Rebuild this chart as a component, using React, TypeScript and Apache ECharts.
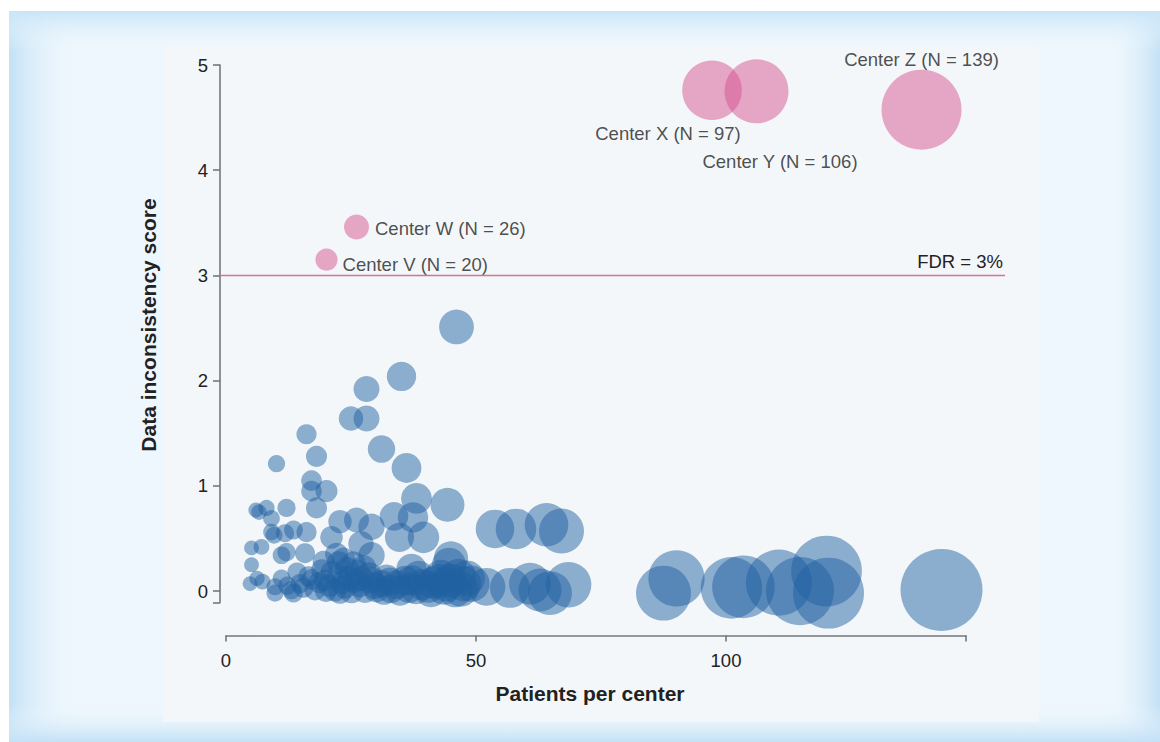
import React, { useEffect, useRef } from 'react';
import * as echarts from 'echarts';

// ---------- data ----------
const xTicks = [0, 50, 100];
const yTicks = [0, 1, 2, 3, 4, 5];
const xTitle = 'Patients per center';
const yTitle = 'Data inconsistency score';
const fdrLevel = 3;
const fdrLabel = 'FDR = 3%';
const fdrSpan = [-1.2, 155.8];

// [patients per center, data inconsistency score]
const blueCenters: [number, number][] = [
  [46.1, 2.51], [35.1, 2.04], [28.1, 1.92], [25.0, 1.64], [28.1, 1.64], [31.1, 1.35], [36.1, 1.17],
  [16.1, 1.49], [18.1, 1.28], [10.1, 1.21], [17.1, 1.05], [17.1, 0.95], [20.1, 0.95], [38.1, 0.88],
  [44.3, 0.82], [18.1, 0.79], [6.0, 0.77], [6.6, 0.75], [8.1, 0.79], [12.1, 0.79], [9.1, 0.69],
  [33.6, 0.71], [37.4, 0.70], [22.8, 0.66], [26.1, 0.675], [29.1, 0.61], [34.7, 0.51], [39.5, 0.51],
  [53.8, 0.59], [58.0, 0.59], [64.1, 0.63], [67.1, 0.57],
  [9.1, 0.56], [9.6, 0.53], [11.8, 0.55], [13.5, 0.58], [16.1, 0.56], [21.1, 0.51], [27.0, 0.45],
  [5.1, 0.41], [7.1, 0.42], [11.1, 0.34], [12.1, 0.37], [15.8, 0.36], [22.1, 0.35], [22.5, 0.27],
  [29.1, 0.34], [5.1, 0.25], [45.0, 0.31], [44.6, 0.25], [37.1, 0.21], [19.5, 0.28],
  [23.5, 0.3], [25.5, 0.26], [27.5, 0.22],
  [4.8, 0.07], [6.2, 0.12], [7.3, 0.09], [9.8, 0.04], [9.8, -0.02], [11.1, 0.12], [12.3, 0.05],
  [13.1, 0.01], [13.5, -0.02], [14.8, 0.07], [14.2, 0.18], [15.5, 0.03], [16.5, 0.14], [17.2, 0.11],
  [17.8, 0.01], [18.6, 0.08], [19.2, 0.2], [19.8, 0.10], [20.0, 0.0], [20.6, 0.05], [21.2, 0.18],
  [21.8, 0.01], [22.5, 0.14], [22.8, -0.01], [23.1, 0.08], [23.8, 0.04], [24.2, 0.21], [24.6, 0.12],
  [25.1, 0.0], [25.8, 0.10], [26.2, 0.18], [26.7, 0.06], [27.0, 0.12], [27.8, 0.01], [28.6, 0.15],
  [29.1, 0.10], [29.8, 0.05], [30.1, 0.02], [31.1, 0.07], [31.6, 0.0], [32.1, 0.12], [32.8, 0.09],
  [33.0, 0.02], [34.1, 0.06], [34.8, 0.0], [35.8, 0.10], [36.6, 0.03], [37.2, 0.1], [38.0, 0.02],
  [38.5, 0.14], [39.2, 0.06], [40.5, 0.04], [41.0, 0.0], [41.5, 0.08], [42.5, 0.10], [43.0, 0.14],
  [43.6, 0.03], [44.0, 0.06], [44.8, 0.10], [45.8, 0.01], [46.5, 0.14], [47.0, 0.02], [47.5, 0.07],
  [48.2, 0.12], [49.1, 0.07], [52.1, 0.04], [56.8, 0.03], [60.8, 0.07], [62.8, 0.01], [64.8, -0.02],
  [68.5, 0.06],
  [87.5, -0.02], [90.1, 0.12], [101.1, 0.03], [103.5, 0.04], [110.6, 0.08], [114.8, 0.0],
  [120.1, 0.19], [120.5, -0.02], [143.1, 0.01],
];

const flaggedCenters: [number, number][] = [
  [20.1, 3.15], [26.1, 3.46], [97.2, 4.76], [106.1, 4.75], [139.1, 4.575],
];
const flaggedNames = [
  'Center V (N = 20)', 'Center W (N = 26)', 'Center X (N = 97)', 'Center Y (N = 106)', 'Center Z (N = 139)',
];

// label placement (style, not data)
const labelLayout: any[] = [
  { position: 'right', distance: 5, offset: [0, 5] },
  { position: 'right', distance: 6, offset: [0, 1] },
  { position: 'inside', offset: [-44, 43] },
  { position: 'inside', offset: [23.5, 70] },
  { position: 'inside', offset: [0, -50] },
];

const FONT = "'Liberation Sans', Arial, Helvetica, sans-serif";
const AXIS_COLOR = '#72787d';
const TEXT_COLOR = '#222222';
const EDGE_BLUE = '#c3e1f6';
const LIGHT = 'rgba(238,247,253,0)';

const bubbleSize = (v: number[]) => 12.3 + 0.487 * v[0];

const lin = (x2: number, y2: number, from: string, to: string) => ({
  type: 'linear', x: 0, y: 0, x2, y2,
  colorStops: [{ offset: 0, color: from }, { offset: 1, color: to }],
});

function backgroundGraphics(): any[] {
  return [
    { id: 'bg', type: 'rect', z: -100, silent: true, shape: { x: 9, y: 11, width: 1151, height: 731 }, style: { fill: '#eef7fd' } },
    { id: 'edgeL', type: 'rect', z: -99, silent: true, shape: { x: 9, y: 11, width: 70, height: 731 }, style: { fill: lin(1, 0, EDGE_BLUE, LIGHT) } },
    { id: 'edgeR', type: 'rect', z: -99, silent: true, shape: { x: 1105, y: 11, width: 55, height: 731 }, style: { fill: lin(1, 0, LIGHT, EDGE_BLUE) } },
    { id: 'edgeT', type: 'rect', z: -99, silent: true, shape: { x: 9, y: 11, width: 1151, height: 40 }, style: { fill: lin(0, 1, '#c9e5f8', LIGHT) } },
    { id: 'edgeB', type: 'rect', z: -99, silent: true, shape: { x: 9, y: 705, width: 1151, height: 37 }, style: { fill: lin(0, 1, LIGHT, EDGE_BLUE) } },
    { id: 'panel', type: 'rect', z: -98, silent: true, shape: { x: 163, y: 45, width: 876, height: 677 }, style: { fill: '#f4f7f9' } },
    {
      id: 'xTitle', type: 'text', z: 50, silent: true, x: 590, y: 693,
      style: { text: xTitle, font: `bold 21px ${FONT}`, fill: TEXT_COLOR, textAlign: 'center', textVerticalAlign: 'middle' },
    },
    {
      id: 'yTitle', type: 'text', z: 50, silent: true, x: 148, y: 325, rotation: Math.PI / 2,
      style: { text: yTitle, font: `bold 21px ${FONT}`, fill: TEXT_COLOR, textAlign: 'center', textVerticalAlign: 'middle' },
    },
  ];
}

function buildOption(): any {
  return {
    animation: false,
    backgroundColor: '#ffffff',
    grid: { left: 226, right: 194, top: 65, bottom: 139.4 },
    xAxis: {
      type: 'value',
      min: 0,
      max: 148,
      offset: 33,
      axisLine: { show: true, onZero: false, lineStyle: { color: AXIS_COLOR, width: 1.6 } },
      axisTick: { show: true, length: 6, customValues: [...xTicks, 148], lineStyle: { color: AXIS_COLOR, width: 1.6 } },
      axisLabel: { customValues: xTicks, margin: 15, fontSize: 18.5, color: TEXT_COLOR, fontFamily: FONT },
      splitLine: { show: false },
    },
    yAxis: {
      type: 'value',
      min: -0.11,
      max: 5,
      offset: 6,
      axisLine: { show: true, onZero: false, lineStyle: { color: AXIS_COLOR, width: 1.6 } },
      axisTick: { show: true, length: 7, customValues: [-0.11, ...yTicks], lineStyle: { color: AXIS_COLOR, width: 1.6 } },
      axisLabel: { customValues: yTicks, margin: 12, fontSize: 18.5, color: TEXT_COLOR, fontFamily: FONT },
      splitLine: { show: false },
    },
    graphic: backgroundGraphics(),
    series: [
      {
        type: 'scatter',
        clip: false,
        silent: true,
        symbolSize: bubbleSize,
        itemStyle: { color: 'rgba(32,97,162,0.62)' },
        emphasis: { disabled: true },
        data: blueCenters,
        z: 2,
      },
      {
        type: 'scatter',
        clip: false,
        silent: true,
        symbolSize: bubbleSize,
        itemStyle: { color: 'rgba(214,77,142,0.6)' },
        emphasis: { disabled: true },
        data: flaggedCenters.map((c, i) => ({
          name: flaggedNames[i],
          value: c,
          label: {
            show: true,
            formatter: flaggedNames[i],
            fontSize: 18.5,
            color: TEXT_COLOR,
            fontFamily: FONT,
            ...labelLayout[i],
          },
        })),
        z: 3,
      },
    ],
  };
}

export default function App() {
  const ref = useRef<HTMLDivElement>(null);
  useEffect(() => {
    if (!ref.current) return;
    const chart = echarts.init(ref.current, null, { renderer: 'svg' });
    chart.setOption(buildOption());
    // FDR threshold line, positioned through the chart's own scales
    const p1 = chart.convertToPixel({ gridIndex: 0 }, [fdrSpan[0], fdrLevel]) as number[];
    const p2 = chart.convertToPixel({ gridIndex: 0 }, [fdrSpan[1], fdrLevel]) as number[];
    chart.setOption({
      graphic: [
        ...backgroundGraphics(),
        {
          id: 'fdrLine', type: 'line', z: 10, silent: true,
          shape: { x1: p1[0], y1: p1[1], x2: p2[0], y2: p2[1] },
          style: { stroke: '#d3758f', lineWidth: 1.5 },
        },
        {
          id: 'fdrText', type: 'text', z: 10, silent: true, x: p2[0] - 2, y: p2[1] - 4,
          style: { text: fdrLabel, font: `18.5px ${FONT}`, fill: TEXT_COLOR, textAlign: 'right', textVerticalAlign: 'bottom' },
        },
      ],
    });
    return () => chart.dispose();
  }, []);
  return (
    <div
      ref={ref}
      style={{ position: 'fixed', left: 0, top: 0, width: 1160, height: 742, background: '#ffffff' }}
    />
  );
}
